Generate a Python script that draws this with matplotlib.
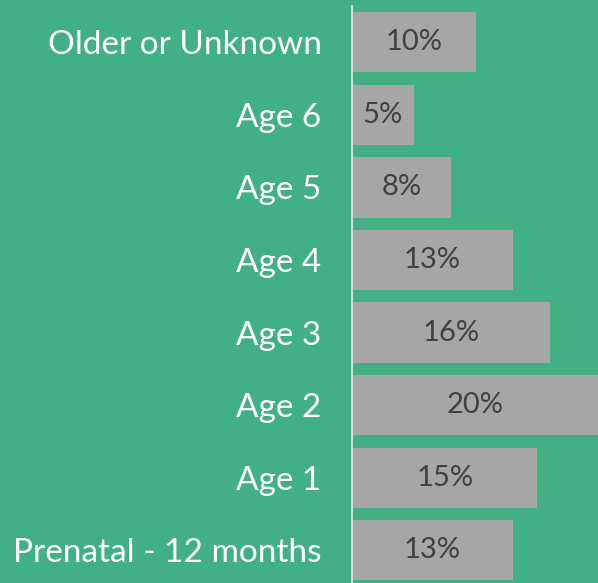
import matplotlib.pyplot as plt

# Data (bottom to top)
categories = ["Prenatal - 12 months", "Age 1", "Age 2", "Age 3", "Age 4",
              "Age 5", "Age 6", "Older or Unknown"]
values = [13, 15, 20, 16, 13, 8, 5, 10]

bg = "#41B185"
bar_color = "#A6A6A6"

fig = plt.figure(figsize=(5.98, 5.83), dpi=100, facecolor=bg)
ax = fig.add_axes([352 / 598, 0, 246 / 598, (583 - 6) / 583], facecolor=bg)

pos = list(range(len(categories)))
ax.barh(pos, values, height=0.83, color=bar_color)

for p, v in zip(pos, values):
    ax.text(v / 2, p, f"{v}%", ha="center", va="center", fontsize=21,
            color="#404040", family=["Lato", "DejaVu Sans"])

ax.set_xlim(0, 19.9)
ax.set_ylim(-0.45, 7.5)
ax.set_yticks(pos)
ax.set_yticklabels(categories, fontsize=24, color="white",
                   family=["Lato", "DejaVu Sans"])
ax.tick_params(axis="y", length=0, pad=22)
ax.set_xticks([])

for s in ["top", "right", "bottom"]:
    ax.spines[s].set_visible(False)
ax.spines["left"].set_color("#D9D9D9")
ax.spines["left"].set_linewidth(1.5)

fig.savefig("out.png", dpi=100, facecolor=bg)
